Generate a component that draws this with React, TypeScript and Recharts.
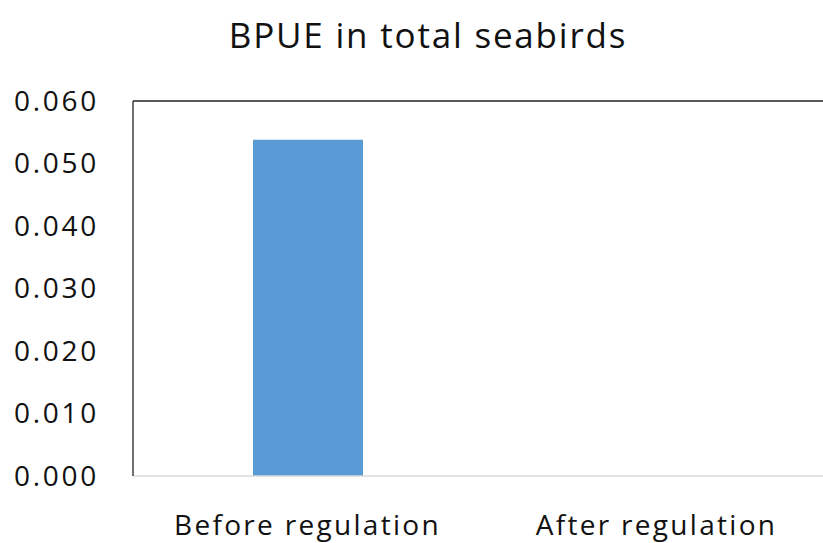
import React from "react";
import { BarChart, Bar, XAxis, YAxis, ReferenceLine } from "recharts";

const categories = ["Before regulation", "After regulation"];
const bpueValues = [0.0538, 0];
const yTicks = [0, 0.01, 0.02, 0.03, 0.04, 0.05, 0.06];
const title = "BPUE in total seabirds";

const data = categories.map((c, i) => ({ name: c, value: bpueValues[i] }));

const FONT = "'Open Sans', sans-serif";

export default function App() {
  return (
    <div
      style={{
        position: "absolute",
        left: 0,
        top: 0,
        width: 823,
        height: 543,
        overflow: "hidden",
        background: "#fff",
      }}
    >
      <BarChart
        width={840}
        height={543}
        data={data}
        margin={{ top: 101, right: 9, bottom: 0, left: 0 }}
        barCategoryGap={0}
      >
        <XAxis
          dataKey="name"
          height={67}
          axisLine={{ stroke: "#d9d9d9", strokeWidth: 1.5 }}
          tickLine={false}
          tickSize={6}
          tickMargin={33}
          tick={{ fill: "#111", fontSize: 28, fontFamily: FONT, letterSpacing: 2.3 }}
          interval={0}
        />
        <YAxis
          width={133}
          domain={[0, 0.06]}
          ticks={yTicks}
          tickFormatter={(v: number) => v.toFixed(3)}
          axisLine={{ stroke: "#404040", strokeWidth: 1.5 }}
          tickLine={false}
          tickSize={6}
          tickMargin={28}
          tick={{ fill: "#111", fontSize: 28, fontFamily: FONT, letterSpacing: 2.7 }}
          allowDataOverflow
        />
        <ReferenceLine y={0.06} stroke="#595959" strokeWidth={2} ifOverflow="extendDomain" />
        <Bar dataKey="value" fill="#5b9bd5" barSize={110} isAnimationActive={false} />
      </BarChart>
      <svg
        width={823}
        height={80}
        style={{ position: "absolute", left: 0, top: 0, pointerEvents: "none" }}
      >
        <text
          x={428}
          y={48}
          textAnchor="middle"
          fontSize={35}
          fontFamily={FONT}
          fill="#111"
          letterSpacing={1.8}
        >
          {title}
        </text>
      </svg>
    </div>
  );
}
